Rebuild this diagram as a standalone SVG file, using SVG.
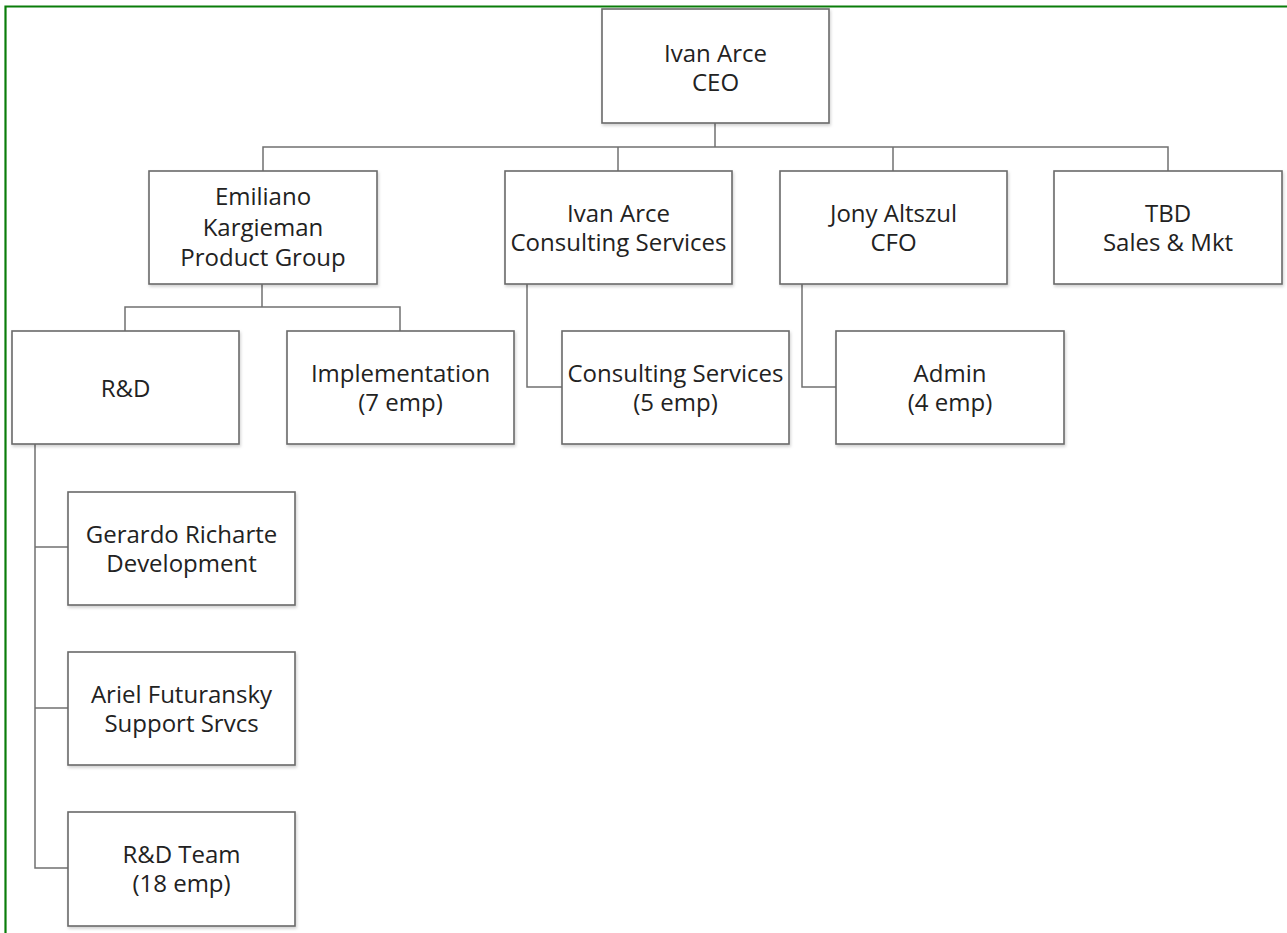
<svg xmlns="http://www.w3.org/2000/svg" width="1287" height="933" viewBox="0 0 1287 933">
<defs>
<filter id="sh" x="-5%" y="-5%" width="115%" height="120%">
<feDropShadow dx="1" dy="2" stdDeviation="1.5" flood-color="#000" flood-opacity="0.18"/>
</filter>
<style>
.box{fill:#fff;stroke:#6a6a6a;stroke-width:1.6;filter:url(#sh)}
.t{font-family:"Open Sans","Noto Sans",sans-serif;font-size:24px;fill:#222;text-anchor:middle}
.c{fill:none;stroke:#707070;stroke-width:1.5}
</style>
</defs>
<rect width="1287" height="933" fill="#fff"/>
<path d="M5.5,940 V6.5 H1295" fill="none" stroke="#0a7d0a" stroke-width="2.2"/>
<g id="connectors" class="c">
<path d="M715,123 V147"/>
<path d="M263,171 V147 H1168 V171"/>
<path d="M618,147 V171"/>
<path d="M893,147 V171"/>
<path d="M262,284 V307"/>
<path d="M125,331 V307 H400 V331"/>
<path d="M527,284 V387 H562"/>
<path d="M802,284 V387 H836"/>
<path d="M35,444 V868 H68"/>
<path d="M35,547 H68"/>
<path d="M35,708 H68"/>
</g>
<g id="ceo"><rect class="box" x="602" y="9" width="227" height="114"/><text class="t" x="715.5" y="62">Ivan Arce</text><text class="t" x="715.5" y="91">CEO</text></g>
<g id="product"><rect class="box" x="149" y="171" width="228" height="113"/><text class="t" x="263" y="205">Emiliano</text><text class="t" x="263" y="236">Kargieman</text><text class="t" x="263" y="266">Product Group</text></g>
<g id="consulting"><rect class="box" x="505" y="171" width="227" height="113"/><text class="t" x="618.5" y="222">Ivan Arce</text><text class="t" x="618.5" y="251">Consulting Services</text></g>
<g id="cfo"><rect class="box" x="780" y="171" width="227" height="113"/><text class="t" x="893.5" y="222">Jony Altszul</text><text class="t" x="893.5" y="251">CFO</text></g>
<g id="sales"><rect class="box" x="1054" y="171" width="228" height="113"/><text class="t" x="1168" y="222">TBD</text><text class="t" x="1168" y="251">Sales &amp; Mkt</text></g>
<g id="rnd"><rect class="box" x="12" y="331" width="227" height="113"/><text class="t" x="125.5" y="397">R&amp;D</text></g>
<g id="impl"><rect class="box" x="287" y="331" width="227" height="113"/><text class="t" x="400.5" y="382">Implementation</text><text class="t" x="400.5" y="411">(7 emp)</text></g>
<g id="consserv"><rect class="box" x="562" y="331" width="227" height="113"/><text class="t" x="675.5" y="382">Consulting Services</text><text class="t" x="675.5" y="411">(5 emp)</text></g>
<g id="admin"><rect class="box" x="836" y="331" width="228" height="113"/><text class="t" x="950" y="382">Admin</text><text class="t" x="950" y="411">(4 emp)</text></g>
<g id="dev"><rect class="box" x="68" y="492" width="227" height="113"/><text class="t" x="181.5" y="543">Gerardo Richarte</text><text class="t" x="181.5" y="572">Development</text></g>
<g id="support"><rect class="box" x="68" y="652" width="227" height="113"/><text class="t" x="181.5" y="703">Ariel Futuransky</text><text class="t" x="181.5" y="732">Support Srvcs</text></g>
<g id="team"><rect class="box" x="68" y="812" width="227" height="114"/><text class="t" x="181.5" y="863">R&amp;D Team</text><text class="t" x="181.5" y="892">(18 emp)</text></g>
</svg>
